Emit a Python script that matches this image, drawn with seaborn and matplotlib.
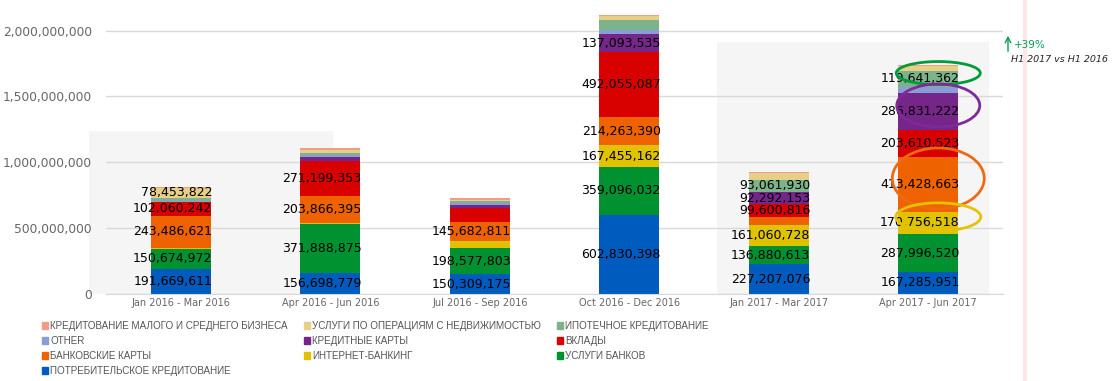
import numpy as np
import pandas as pd
import matplotlib
matplotlib.use('Agg')
import matplotlib.pyplot as plt
import seaborn as sns
from matplotlib.patches import Rectangle, Ellipse, Patch
from matplotlib.lines import Line2D
from matplotlib.ticker import FuncFormatter

# quarters on the x axis
periods = ['Jan 2016 - Mar 2016', 'Apr 2016 - Jun 2016', 'Jul 2016 - Sep 2016',
           'Oct 2016 - Dec 2016', 'Jan 2017 - Mar 2017', 'Apr 2017 - Jun 2017']

# series, bottom of the stack first
consumer_loans = [191669611, 156698779, 150309175, 602830398, 227207076, 167285951]
bank_services = [150674972, 371888875, 198577803, 359096032, 136880613, 287996520]
internet_banking = [10000000, 10000000, 50000000, 167455162, 161060728, 170756518]
bank_cards = [243486621, 203866395, 145682811, 214263390, 56000000, 413428663]
deposits = [102060242, 271199353, 111000000, 492055087, 99600816, 203610523]
credit_cards = [3000000, 25000000, 23000000, 137093535, 92292153, 286831222]
other = [2000000, 18000000, 12000000, 35000000, 3000000, 43000000]
mortgage = [25000000, 15000000, 12000000, 71000000, 93061930, 119641362]
real_estate = [78453822, 25000000, 15000000, 30000000, 48000000, 38000000]
sme_loans = [5000000, 10000000, 10000000, 8000000, 8000000, 8000000]

series_names = ['ПОТРЕБИТЕЛЬСКОЕ КРЕДИТОВАНИЕ', 'УСЛУГИ БАНКОВ', 'ИНТЕРНЕТ-БАНКИНГ',
                'БАНКОВСКИЕ КАРТЫ', 'ВКЛАДЫ', 'КРЕДИТНЫЕ КАРТЫ', 'OTHER',
                'ИПОТЕЧНОЕ КРЕДИТОВАНИЕ', 'УСЛУГИ ПО ОПЕРАЦИЯМ С НЕДВИЖИМОСТЬЮ',
                'КРЕДИТОВАНИЕ МАЛОГО И СРЕДНЕГО БИЗНЕСА']
series_values = [consumer_loans, bank_services, internet_banking, bank_cards, deposits,
                 credit_cards, other, mortgage, real_estate, sme_loans]
colors = ['#005bbf', '#009130', '#e0c200', '#ee6200', '#d90000',
          '#762589', '#8b9dd6', '#7db38a', '#e8cf88', '#f19c84']

label_min = 75000000
hidden_labels = [('Jul 2016 - Sep 2016', 'ВКЛАДЫ')]

df = pd.DataFrame(series_values, index=series_names, columns=periods).T
cum = df.cumsum(axis=1)
bottoms = cum - df

sns.set_style('white')
plt.rcParams['font.family'] = ['DejaVu Sans']

fig = plt.figure(figsize=(11.18, 3.81), dpi=100)
ax = fig.add_axes([106 / 1118, 87 / 381, 897 / 1118, 289.7 / 381])

# grey half-year bands
ax.add_patch(Rectangle((-0.615, 0), 1.632, 1237e6, color='#f5f5f5', zorder=0.1, clip_on=False, lw=0))
ax.add_patch(Rectangle((3.585, 0), 1.82, 1913e6, color='#f5f5f5', zorder=0.1, clip_on=False, lw=0))

# stacked bars: draw cumulative totals from the top series down
for name, col in reversed(list(zip(series_names, colors))):
    sns.barplot(x=periods, y=cum[name].values, color=col, saturation=1,
                width=0.4, linewidth=0, ax=ax, zorder=2)

for i, p in enumerate(periods):
    for name in series_names:
        v = df.loc[p, name]
        if v < label_min or (p, name) in hidden_labels:
            continue
        ax.text(i + 0.21, bottoms.loc[p, name] + v / 2, f'{v:,.0f}', ha='right', va='center',
                fontsize=9, color='black', zorder=5)

# highlight ellipses on the last quarter
last = periods[-1]
for name, w, h, col in [('ИПОТЕЧНОЕ КРЕДИТОВАНИЕ', 0.562, 175e6, '#009b3a'),
                        ('КРЕДИТНЫЕ КАРТЫ', 0.555, 327e6, '#7f2a96'),
                        ('БАНКОВСКИЕ КАРТЫ', 0.615, 463e6, '#ee6a10'),
                        ('ИНТЕРНЕТ-БАНКИНГ', 0.569, 213e6, '#e5c300')]:
    yc = bottoms.loc[last, name] + df.loc[last, name] / 2 + 45e6
    ax.add_patch(Ellipse((5.067, yc), w, h, fill=False, edgecolor=col, lw=2, zorder=6))

ax.set_xlim(-0.5, 5.5)
ax.set_ylim(0, 2.2e9)
ax.set_yticks([0, 500e6, 1000e6, 1500e6, 2000e6])
ax.yaxis.set_major_formatter(FuncFormatter(lambda v, _: f'{v:,.0f}'))
ax.yaxis.grid(True, color='#d9d9d9', lw=1)
ax.set_axisbelow(True)
for s in ['top', 'right', 'left']:
    ax.spines[s].set_visible(False)
ax.spines['bottom'].set_color('#d9d9d9')
ax.tick_params(axis='y', length=0, pad=10, labelsize=8.8, labelcolor='#666666')
ax.tick_params(axis='x', length=0, pad=3, labelsize=7, labelcolor='#666666')
ax.set_xlabel('')
ax.set_ylabel('')

# legend in three columns, filled row by row (reverse stack order)
leg_order = [9, 6, 3, 0, 8, 5, 2, 7, 4, 1]
handles = [Patch(color=colors[j], label=series_names[j]) for j in leg_order]
leg = fig.legend(handles=handles, ncol=3, loc='upper left',
                 bbox_to_anchor=(42 / 1118, 1 - 321 / 381),
                 frameon=False, handlelength=0.6, handleheight=0.7,
                 handletextpad=0.25, labelspacing=0.5, columnspacing=1.6,
                 borderpad=0, borderaxespad=0,
                 prop={'family': ['Liberation Sans', 'DejaVu Sans'], 'size': 7.1})
for t in leg.get_texts():
    t.set_color('#555555')

# growth note H1 2017 vs H1 2016
h1_2016 = df.loc[periods[0:2]].values.sum()
h1_2017 = df.loc[periods[4:6]].values.sum()
growth = (h1_2017 / h1_2016 - 1) * 100
ax.annotate('', xy=(1008, 348), xytext=(1008, 327), xycoords='figure pixels',
            arrowprops=dict(arrowstyle='->', color='#00a050', lw=1))
fig.text(1014 / 1118, 1 - 45 / 381, f'+{growth:.0f}%', color='#00a050', fontsize=7.5, va='center')
fig.text(1011 / 1118, 1 - 60 / 381, 'H1 2017 vs H1 2016', color='#222222', fontsize=6.8,
         style='italic', va='center')

fig.add_artist(Line2D([1025 / 1118] * 2, [0, 1], color='#fde6e6', lw=3, transform=fig.transFigure))

fig.savefig('out.png', dpi=100)
